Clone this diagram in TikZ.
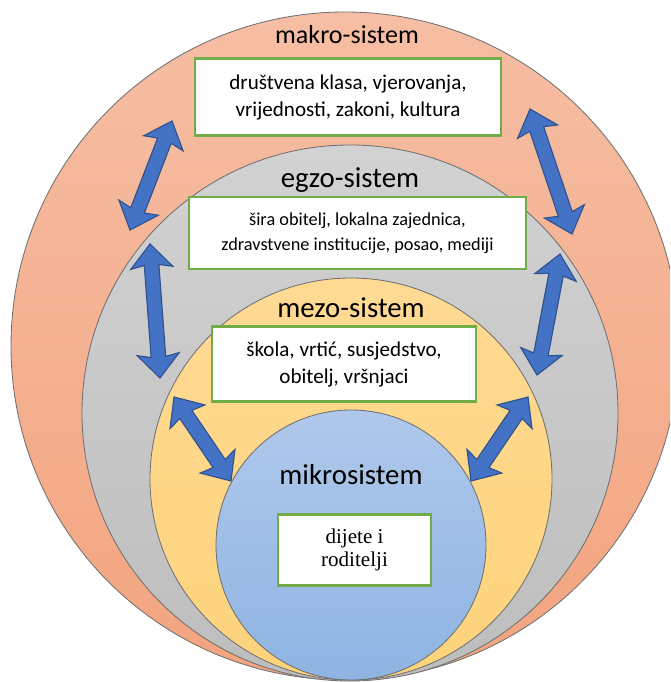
\documentclass[tikz,border=0pt]{standalone}
\usepackage{fontspec}
\setmainfont{Carlito}
\newfontfamily\romanfont{Liberation Serif}
\usetikzlibrary{calc}
\definecolor{MakroTopClr}{HTML}{F6BEA4}
\definecolor{MakroBotClr}{HTML}{F3A47F}
\definecolor{EgzoTopClr}{HTML}{D2D2D2}
\definecolor{EgzoBotClr}{HTML}{BDBDBD}
\definecolor{MezoTopClr}{HTML}{FFDA93}
\definecolor{MezoBotClr}{HTML}{FDD37B}
\definecolor{MikroTopClr}{HTML}{AFC8EA}
\definecolor{MikroBotClr}{HTML}{8EB4E2}
\definecolor{RimClr}{HTML}{707070}
\definecolor{BoxClr}{HTML}{70AD47}
\definecolor{ArrowClr}{HTML}{4472C4}
\definecolor{ArrowRimClr}{HTML}{2F528F}

\newcommand{\ArrHead}{15pt}
\newcommand{\ArrBarb}{17pt}
\newcommand{\ArrHalf}{15pt}
\newcommand{\ArrShaft}{5.2pt}
\newcommand{\DblArrow}[2]{%
\draw[arrowshape] (#1)
 -- ($(#1)!\ArrBarb!(#2)!\ArrHalf!90:(#2)$)
 -- ($(#1)!\ArrHead!(#2)!\ArrShaft!90:(#2)$)
 -- ($(#2)!\ArrHead!(#1)!\ArrShaft!-90:(#1)$)
 -- ($(#2)!\ArrBarb!(#1)!\ArrHalf!-90:(#1)$)
 -- (#2)
 -- ($(#2)!\ArrBarb!(#1)!\ArrHalf!90:(#1)$)
 -- ($(#2)!\ArrHead!(#1)!\ArrShaft!90:(#1)$)
 -- ($(#1)!\ArrHead!(#2)!\ArrShaft!-90:(#2)$)
 -- ($(#1)!\ArrBarb!(#2)!\ArrHalf!-90:(#2)$)
 -- cycle;}

\begin{document}
\begin{tikzpicture}[x=0.025cm,y=-0.025cm,
  ring/.style={draw=RimClr,line width=0.6pt},
  title/.style={inner sep=0pt,font=\fontsize{20.5}{24}\selectfont},
  infobox/.style={draw=BoxClr,line width=1.6pt,fill=white,align=center,inner sep=2pt,
    font=\fontsize{15}{19.2}\selectfont},
  arrowshape/.style={fill=ArrowClr,draw=ArrowRimClr,line width=0.8pt,line join=miter}]

\useasboundingbox (0,0) rectangle (670,682);
\clip (0,0) rectangle (670,682);

\coordinate (O1) at (345,346);
\coordinate (O2) at (350,413);
\coordinate (O3) at (351,479);
\coordinate (O4) at (351,545);

\draw[ring,top color=MakroTopClr,bottom color=MakroBotClr] (O1) circle (334);
\draw[ring,top color=EgzoTopClr,bottom color=EgzoBotClr] (O2) circle (268);
\draw[ring,top color=MezoTopClr,bottom color=MezoBotClr] (O3) circle (201);
\draw[ring,top color=MikroTopClr,bottom color=MikroBotClr] (O4) circle (135);

\node[title,font=\fontsize{18.5}{22}\selectfont] (makro) at (347,35) {makro-sistem};
\node[title] (egzo) at (350,180) {egzo-sistem};
\node[title] (mezo) at (351,308) {mezo-sistem};
\node[title] (mikro) at (351,475) {mikrosistem};

\node[infobox,minimum width=7.65cm,minimum height=1.925cm] (makrobox) at (348,97)
  {društvena klasa, vjerovanja,\\vrijednosti, zakoni, kultura};
\node[infobox,minimum width=8.425cm,minimum height=1.8cm,font=\fontsize{13}{17.8}\selectfont] (egzobox) at (357.5,233)
  {šira obitelj, lokalna zajednica,\\zdravstvene institucije, posao, mediji};
\node[infobox,minimum width=6.6cm,minimum height=1.875cm] (mezobox) at (344,364)
  {škola, vrtić, susjedstvo,\\obitelj, vršnjaci};
\node[infobox,minimum width=3.825cm,minimum height=1.775cm,font=\romanfont\fontsize{15}{16.7}\selectfont] (mikrobox) at (354.5,550)
  {dijete i\\roditelji};

\coordinate (A1) at (172,121);
\coordinate (B1) at (130,230);
\coordinate (A2) at (150,244);
\coordinate (B2) at (160,378);
\coordinate (A3) at (530,109);
\coordinate (B3) at (572,234);
\coordinate (A4) at (560,254);
\coordinate (B4) at (537,375);
\coordinate (A5) at (174,397);
\coordinate (B5) at (231,481);
\coordinate (A6) at (528,397);
\coordinate (B6) at (471,481);

\DblArrow{A1}{B1}
\DblArrow{A2}{B2}
\DblArrow{A3}{B3}
\DblArrow{A4}{B4}
\DblArrow{A5}{B5}
\DblArrow{A6}{B6}

\end{tikzpicture}
\end{document}
